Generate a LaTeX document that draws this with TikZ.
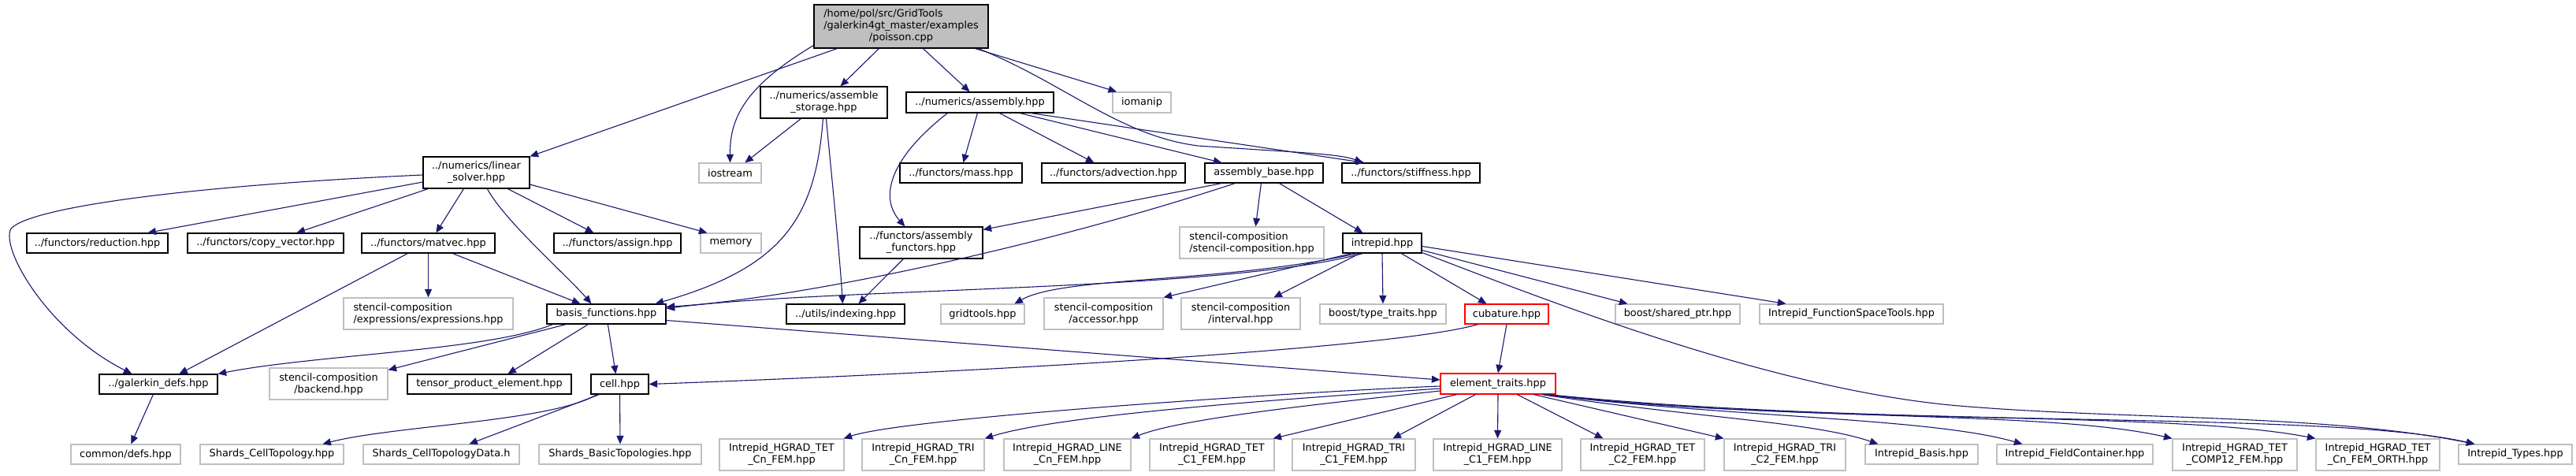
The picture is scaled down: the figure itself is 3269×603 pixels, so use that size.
\documentclass[tikz,border=0pt]{standalone}
\usepackage{fontspec}
\setmainfont{DejaVu Sans}
\usetikzlibrary{arrows.meta}
\definecolor{edgec}{RGB}{25,25,112}
\definecolor{extg}{RGB}{191,191,191}
\newcommand{\nfnt}{\fontsize{12.9}{15}\selectfont}
\tikzset{
  box/.style 2 args={rectangle, inner sep=0pt, minimum width=#1pt, minimum height=#2pt, align=center, font=\nfnt, line width=1.2pt},
  nb/.style 2 args={box={#1}{#2}, draw=black},
  ng/.style 2 args={box={#1}{#2}, draw=extg},
  nr/.style 2 args={box={#1}{#2}, draw=red},
  dep/.style={draw=edgec, line width=1.1pt, -{Triangle[length=10.5pt,width=9pt]}}
}
\begin{document}
\begin{tikzpicture}[x=1pt,y=-1pt]
\fill[white] (0,0) rectangle (3269,603);
\useasboundingbox (0,0) rectangle (3269,603);
% rank 0
\node[nb={221}{55}, fill=extg] (root) at (1143.5,33.5) {\begin{tabular}{@{}l@{}}/home/pol/src/GridTools\\/galerkin4gt\_master/examples\\\multicolumn{1}{@{}c@{}}{/poisson.cpp}\end{tabular}};
% rank 1
\node[nb={161}{40}] (asmstore) at (1045.5,130) {../numerics/assemble\\\_storage.hpp};
\node[nb={187}{26}] (assembly) at (1243.5,130) {../numerics/assembly.hpp};
\node[ng={74}{26}] (iomanip) at (1449,130) {iomanip};
% rank 2
\node[nb={135}{40}] (linsolver) at (604.5,219) {../numerics/linear\\\_solver.hpp};
\node[ng={79}{25}] (iostream) at (926.5,219.5) {iostream};
\node[nb={155}{25}] (mass) at (1219.5,219.5) {../functors/mass.hpp};
\node[nb={182}{25}] (advection) at (1413,219.5) {../functors/advection.hpp};
\node[nb={150}{25}] (asmbase) at (1604,219.5) {assembly\_base.hpp};
\node[nb={175}{25}] (stiffness) at (1790.5,219.5) {../functors/stiffness.hpp};
% rank 3
\node[nb={179}{25}] (reduction) at (123.5,308.5) {../functors/reduction.hpp};
\node[nb={198}{25}] (copyvec) at (337,308.5) {../functors/copy\_vector.hpp};
\node[nb={169}{25}] (matvec) at (543.5,308.5) {../functors/matvec.hpp};
\node[nb={161}{25}] (assign) at (783.5,308.5) {../functors/assign.hpp};
\node[ng={77}{25}] (memory) at (927.5,308.5) {memory};
\node[nb={156}{40}] (asmfunc) at (1169,308) {../functors/assembly\\\_functors.hpp};
\node[ng={183}{40}, align=left] (stencil) at (1588.5,308) {stencil-composition\\/stencil-composition.hpp};
\node[nb={100}{25}] (intrepid) at (1754,308.5) {intrepid.hpp};
% rank 4
\node[ng={215}{40}, align=left] (expressions) at (543.5,398) {stencil-composition\\/expressions/expressions.hpp};
\node[nb={151}{25}] (basis) at (769.5,398.5) {basis\_functions.hpp};
\node[nb={150}{25}] (indexing) at (1073,398.5) {../utils/indexing.hpp};
\node[ng={106}{25}] (gridtools) at (1247,398.5) {gridtools.hpp};
\node[ng={151}{40}] (accessor) at (1400.5,398) {stencil-composition\\/accessor.hpp};
\node[ng={151}{40}] (interval) at (1574.5,398) {stencil-composition\\/interval.hpp};
\node[ng={160}{25}] (typetraits) at (1755,398.5) {boost/type\_traits.hpp};
\node[nr={106}{25}] (cubature) at (1912,398.5) {cubature.hpp};
\node[ng={158}{25}] (sharedptr) at (2129,398.5) {boost/shared\_ptr.hpp};
\node[ng={233}{25}] (fst) at (2349.5,398.5) {Intrepid\_FunctionSpaceTools.hpp};
% rank 5
\node[nb={150}{25}] (galdefs) at (201,487.5) {../galerkin\_defs.hpp};
\node[ng={150}{40}] (backend) at (417,487) {stencil-composition\\/backend.hpp};
\node[nb={208}{25}] (tensor) at (621,487.5) {tensor\_product\_element.hpp};
\node[nb={73}{25}] (cell) at (786.5,487.5) {cell.hpp};
\node[nr={146}{26}] (eltraits) at (1901,487) {element\_traits.hpp};
% rank 6
\node[ng={139}{25}] (commondefs) at (159.5,576.5) {common/defs.hpp};
\node[ng={182}{25}] (shcell) at (345,576.5) {Shards\_CellTopology.hpp};
\node[ng={198}{25}] (shcelldata) at (560,576.5) {Shards\_CellTopologyData.h};
\node[ng={206}{25}] (shbasic) at (787,576.5) {Shards\_BasicTopologies.hpp};
\node[ng={158}{40}] (h1) at (992,577) {Intrepid\_HGRAD\_TET\\\_Cn\_FEM.hpp};
\node[ng={155}{40}] (h2) at (1171.5,577) {Intrepid\_HGRAD\_TRI\\\_Cn\_FEM.hpp};
\node[ng={161}{40}] (h3) at (1354.5,577) {Intrepid\_HGRAD\_LINE\\\_Cn\_FEM.hpp};
\node[ng={158}{40}] (h4) at (1538,577) {Intrepid\_HGRAD\_TET\\\_C1\_FEM.hpp};
\node[ng={156}{40}] (h5) at (1718,577) {Intrepid\_HGRAD\_TRI\\\_C1\_FEM.hpp};
\node[ng={163}{40}] (h6) at (1900.5,577) {Intrepid\_HGRAD\_LINE\\\_C1\_FEM.hpp};
\node[ng={157}{40}] (h7) at (2084.5,577) {Intrepid\_HGRAD\_TET\\\_C2\_FEM.hpp};
\node[ng={154}{40}] (h8) at (2265,577) {Intrepid\_HGRAD\_TRI\\\_C2\_FEM.hpp};
\node[ng={143}{25}] (ibasis) at (2438.5,576.5) {Intrepid\_Basis.hpp};
\node[ng={198}{25}] (fc) at (2633,576.5) {Intrepid\_FieldContainer.hpp};
\node[ng={158}{40}] (comp12) at (2836,577) {Intrepid\_HGRAD\_TET\\\_COMP12\_FEM.hpp};
\node[ng={157}{40}] (orth) at (3017.5,577) {Intrepid\_HGRAD\_TET\\\_Cn\_FEM\_ORTH.hpp};
\node[ng={144}{25}] (types) at (3192,576.5) {Intrepid\_Types.hpp};
% edges from root
\draw[dep] ([xshift=30pt]root.south west) -- (linsolver.north east);
\draw[dep] ([yshift=4pt]root.south west) .. controls (945,110) and (926,150) .. (iostream.north);
\draw[dep] ([xshift=83pt]root.south west) -- ([xshift=21pt]asmstore.north);
\draw[dep] ([xshift=139pt]root.south west) -- ([xshift=-13pt]assembly.north);
\draw[dep] ([xshift=205pt]root.south west) -- ([xshift=-32pt]iomanip.north);
\draw[dep] ([xshift=209pt]root.south west) .. controls (1350,105) and (1420,172) .. (1520,185) .. controls (1640,193) and (1700,195) .. ([xshift=27pt]stiffness.north west);
% assembly.hpp
\draw[dep] ([xshift=159pt]assembly.south west) -- ([xshift=29pt]stiffness.north west);
\draw[dep] ([xshift=145pt]assembly.south west) -- ([xshift=22pt]asmbase.north west);
\draw[dep] ([xshift=119pt]assembly.south west) -- ([xshift=67pt]advection.north west);
\draw[dep] ([xshift=91pt]assembly.south west) -- ([xshift=81pt]mass.north west);
\draw[dep] ([xshift=53pt]assembly.south west) .. controls (1130,200) and (1115,250) .. ([xshift=58pt]asmfunc.north west);
% assemble_storage
\draw[dep] ([xshift=52pt]asmstore.south west) -- ([xshift=59pt]iostream.north west);
\draw[dep] ([xshift=80pt]asmstore.south west) .. controls (1035,280) and (990,340) .. ([xshift=-14pt]basis.north east);
\draw[dep] ([xshift=84pt]asmstore.south west) .. controls (1058,250) and (1066,330) .. ([xshift=72pt]indexing.north west);
% linear_solver
\draw[dep] ([yshift=-3pt]linsolver.west) .. controls (250,235) and (40,262) .. (14,290) .. controls (0,315) and (60,420) .. ([xshift=42pt]galdefs.north west);
\draw[dep] ([yshift=-12pt]linsolver.west) -- ([xshift=154pt]reduction.north west);
\draw[dep] ([xshift=7pt]linsolver.south west) -- ([xshift=139pt]copyvec.north west);
\draw[dep] ([xshift=52pt]linsolver.south west) -- ([xshift=95pt]matvec.north west);
\draw[dep] ([xshift=82pt]linsolver.south west) .. controls (640,280) and (720,350) .. ([xshift=57pt]basis.north west);
\draw[dep] ([xshift=108pt]linsolver.south west) -- ([xshift=51pt]assign.north west);
\draw[dep] ([yshift=-15pt]linsolver.east) -- ([xshift=9pt]memory.north west);
% assembly_base
\draw[dep] ([xshift=22pt]asmbase.south west) -- ([yshift=-4pt]asmfunc.north east);
\draw[dep] ([xshift=39pt]asmbase.south west) .. controls (1300,320) and (1000,380) .. ([yshift=-4pt]basis.north east);
\draw[dep] ([xshift=72pt]asmbase.south west) -- ([xshift=97pt]stencil.north west);
\draw[dep] ([xshift=95pt]asmbase.south west) -- ([xshift=26pt]intrepid.north west);
% assembly_functors
\draw[dep] ([xshift=56pt]asmfunc.south west) -- ([xshift=92pt]indexing.north west);
% matvec
\draw[dep] ([xshift=59pt]matvec.south west) -- ([xshift=102pt]galdefs.north west);
\draw[dep] (matvec.south) -- (expressions.north);
\draw[dep] ([xshift=116pt]matvec.south west) -- ([xshift=43pt]basis.north west);
% intrepid
\draw[dep] ([xshift=26pt]intrepid.south west) .. controls (1550,370) and (1050,365) .. ([yshift=-6pt]basis.north east);
\draw[dep] ([xshift=19pt]intrepid.south west) .. controls (1550,360) and (1350,350) .. ([xshift=94pt]gridtools.north west);
\draw[dep] ([xshift=12pt]intrepid.south west) -- (accessor.north east);
\draw[dep] ([xshift=22pt]intrepid.south west) -- ([xshift=118pt]interval.north west);
\draw[dep] (intrepid.south) -- (typetraits.north);
\draw[dep] ([xshift=75pt]intrepid.south west) -- ([xshift=28pt]cubature.north west);
\draw[dep] ([yshift=-9pt]intrepid.east) -- ([xshift=16pt]sharedptr.north west);
\draw[dep] ([yshift=-4pt]intrepid.east) -- ([xshift=34pt]fst.north west);
\draw[dep] ([yshift=-12pt]intrepid.east) .. controls (1960,380) and (2250,495) .. (2486,515) .. controls (2700,533) and (2950,525) .. ([xshift=21pt]types.north west);
% basis_functions
\draw[dep] ([xshift=8pt]basis.south west) .. controls (620,445) and (400,450) .. (galdefs.north east);
\draw[dep] ([xshift=25pt]basis.south west) -- ([yshift=-3pt]backend.north east);
\draw[dep] ([xshift=53pt]basis.south west) -- ([xshift=128pt]tensor.north west);
\draw[dep] ([xshift=78pt]basis.south west) -- ([xshift=32pt]cell.north west);
\draw[dep] ([yshift=-8pt]basis.east) -- ([yshift=5pt]eltraits.west);
% cubature
\draw[dep] (cubature.south) -- (eltraits.north);
\draw[dep] ([xshift=17pt]cubature.south west) .. controls (1780,440) and (1300,470) .. (cell.east);
% galerkin_defs, cell
\draw[dep] ([xshift=69pt]galdefs.south west) -- ([xshift=77pt]commondefs.north west);
\draw[dep] ([xshift=8pt]cell.south west) .. controls (700,535) and (500,540) .. ([xshift=156pt]shcell.north west);
\draw[dep] ([xshift=11pt]cell.south west) -- ([xshift=135pt]shcelldata.north west);
\draw[dep] (cell.south) -- (shbasic.north);
% element_traits
\draw[dep] ([yshift=-3pt]eltraits.west) .. controls (1650,497) and (1150,530) .. ([xshift=-1pt]h1.north east);
\draw[dep] ([yshift=-6pt]eltraits.west) .. controls (1650,505) and (1350,525) .. (h2.north east);
\draw[dep] ([yshift=-9pt]eltraits.west) .. controls (1700,510) and (1500,530) .. (h3.north east);
\draw[dep] ([xshift=21pt]eltraits.south west) -- ([xshift=-2pt]h4.north east);
\draw[dep] ([xshift=45pt]eltraits.south west) -- ([xshift=128pt]h5.north west);
\draw[dep] (eltraits.south) -- (h6.north);
\draw[dep] ([xshift=98pt]eltraits.south west) -- ([xshift=29pt]h7.north west);
\draw[dep] ([xshift=119pt]eltraits.south west) -- (h8.north west);
\draw[dep] ([xshift=-18pt]eltraits.south east) .. controls (2150,530) and (2300,535) .. ([xshift=17pt]ibasis.north west);
\draw[dep] ([xshift=-16pt]eltraits.south east) .. controls (2200,530) and (2450,530) .. ([xshift=33pt]fc.north west);
\draw[dep] ([xshift=-14pt]eltraits.south east) .. controls (2250,535) and (2600,520) .. (comp12.north west);
\draw[dep] ([xshift=-12pt]eltraits.south east) .. controls (2300,540) and (2750,520) .. (orth.north west);
\draw[dep] ([xshift=-10pt]eltraits.south east) .. controls (2400,545) and (2950,520) .. ([xshift=21pt]types.north west);
\end{tikzpicture}
\end{document}
